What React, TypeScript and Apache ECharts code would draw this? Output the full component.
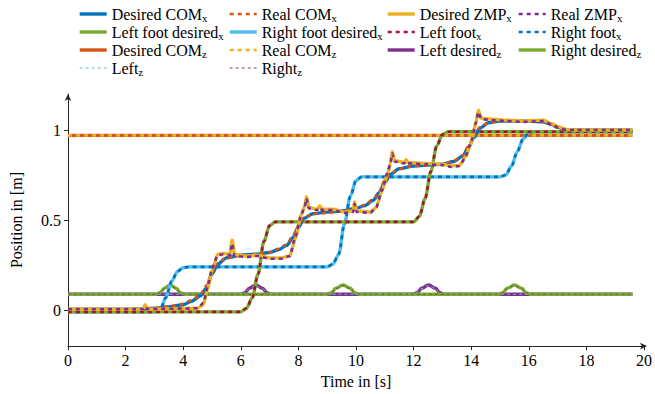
import React, { useEffect, useRef } from "react";
import * as echarts from "echarts";

const FONT = "'Liberation Serif', 'Times New Roman', 'DejaVu Serif', serif";

// ---------- data (time in s, position in m) ----------
const tCom = [0, 1, 2, 2.5, 3.0, 3.5, 4.0, 4.3, 4.6, 4.8, 5.0, 5.2, 5.5, 6.0, 6.5, 7.0, 7.3, 7.6, 7.8, 8.0, 8.2, 8.5, 9.0, 9.5, 10.0, 10.3, 10.6, 10.8, 11.0, 11.2, 11.5, 12.0, 12.5, 13.0, 13.4, 13.7, 13.9, 14.1, 14.3, 14.6, 15.0, 15.5, 16.0, 16.5, 16.8, 17.0, 17.3, 17.6, 19.6];
const desiredComX = [0.005, 0.005, 0.005, 0.006, 0.01, 0.018, 0.03, 0.05, 0.08, 0.12, 0.2, 0.255, 0.29, 0.305, 0.31, 0.32, 0.335, 0.36, 0.4, 0.46, 0.51, 0.535, 0.545, 0.55, 0.565, 0.58, 0.61, 0.65, 0.71, 0.755, 0.785, 0.8, 0.805, 0.81, 0.825, 0.855, 0.9, 0.96, 1.01, 1.04, 1.05, 1.05, 1.05, 1.045, 1.03, 1.015, 1.002, 1.0, 1.0];
const realComX = [0.005, 0.005, 0.005, 0.007, 0.012, 0.02, 0.035, 0.055, 0.09, 0.135, 0.21, 0.26, 0.29, 0.3, 0.31, 0.32, 0.34, 0.365, 0.41, 0.47, 0.515, 0.535, 0.54, 0.55, 0.565, 0.585, 0.615, 0.66, 0.72, 0.76, 0.785, 0.8, 0.805, 0.81, 0.83, 0.86, 0.91, 0.97, 1.015, 1.04, 1.05, 1.05, 1.05, 1.045, 1.03, 1.012, 1.0, 1.0, 1.0];

const tZmp = [0, 2.6, 2.68, 2.76, 4.5, 4.7, 4.85, 5.0, 5.2, 5.4, 5.62, 5.7, 5.78, 6.2, 6.6, 7.0, 7.4, 7.7, 7.9, 8.1, 8.22, 8.28, 8.36, 8.65, 8.74, 8.82, 9.2, 9.6, 9.9, 9.95, 10.02, 10.5, 10.7, 10.9, 11.1, 11.2, 11.26, 11.34, 11.68, 11.74, 11.8, 12.4, 13.0, 13.3, 13.6, 13.8, 14.0, 14.15, 14.25, 14.35, 14.7, 15.2, 15.8, 16.5, 16.8, 17.0, 17.3, 17.6, 19.6];
const desiredZmpX = [0.005, 0.005, 0.03, 0.005, 0.01, 0.03, 0.12, 0.22, 0.31, 0.315, 0.31, 0.39, 0.31, 0.3, 0.305, 0.29, 0.29, 0.3, 0.4, 0.53, 0.58, 0.63, 0.57, 0.56, 0.58, 0.56, 0.56, 0.545, 0.55, 0.6, 0.55, 0.545, 0.57, 0.66, 0.76, 0.82, 0.88, 0.83, 0.82, 0.835, 0.82, 0.815, 0.81, 0.8, 0.805, 0.85, 0.93, 1.03, 1.11, 1.065, 1.06, 1.055, 1.05, 1.055, 1.035, 1.02, 1.003, 1.0, 1.0];
const realZmpX = [0.005, 0.005, 0.02, 0.005, 0.01, 0.04, 0.13, 0.23, 0.305, 0.31, 0.305, 0.37, 0.3, 0.295, 0.3, 0.285, 0.285, 0.3, 0.41, 0.53, 0.575, 0.62, 0.565, 0.555, 0.57, 0.555, 0.555, 0.54, 0.545, 0.59, 0.545, 0.54, 0.57, 0.665, 0.765, 0.82, 0.87, 0.825, 0.815, 0.825, 0.815, 0.81, 0.805, 0.795, 0.8, 0.85, 0.935, 1.035, 1.1, 1.06, 1.055, 1.05, 1.045, 1.05, 1.03, 1.015, 1.0, 1.0, 1.0];

const tLeftFoot = [0, 6.0, 6.2, 6.4, 6.6, 6.8, 7.0, 7.2, 12.0, 12.2, 12.4, 12.6, 12.8, 13.0, 13.2, 19.6];
const leftFootDesiredX = [-0.01, -0.01, 0.01, 0.07, 0.2, 0.38, 0.47, 0.49, 0.49, 0.52, 0.62, 0.77, 0.91, 0.975, 0.99, 0.99];
const leftFootX = [-0.01, -0.01, 0.01, 0.07, 0.2, 0.38, 0.47, 0.49, 0.49, 0.52, 0.62, 0.77, 0.91, 0.975, 0.99, 0.99];

const tRightFoot = [0, 3.0, 3.2, 3.4, 3.6, 3.8, 4.0, 4.2, 9.0, 9.2, 9.4, 9.6, 9.8, 10.0, 10.2, 15.0, 15.2, 15.4, 15.6, 15.8, 16.0, 16.2, 19.6];
const rightFootDesiredX = [-0.01, -0.01, 0.0, 0.07, 0.16, 0.215, 0.235, 0.24, 0.24, 0.255, 0.31, 0.48, 0.63, 0.72, 0.74, 0.74, 0.75, 0.8, 0.88, 0.95, 0.985, 0.99, 0.99];
const rightFootX = [-0.01, -0.01, 0.0, 0.07, 0.16, 0.215, 0.235, 0.24, 0.24, 0.255, 0.31, 0.48, 0.63, 0.72, 0.74, 0.74, 0.75, 0.8, 0.88, 0.95, 0.985, 0.99, 0.99];

const tComZ = [0, 19.6];
const desiredComZ = [0.97, 0.97];
const realComZ = [0.97, 0.97];

const tLeftZ = [0, 6.0, 6.15, 6.3, 6.52, 6.75, 6.9, 7.05, 11.98, 12.13, 12.28, 12.52, 12.76, 12.91, 13.06, 19.6];
const leftDesiredZ = [0.088, 0.088, 0.097, 0.122, 0.139, 0.122, 0.097, 0.088, 0.088, 0.097, 0.122, 0.139, 0.122, 0.097, 0.088, 0.088];
const leftZ = [0.088, 0.088, 0.096, 0.12, 0.136, 0.12, 0.096, 0.088, 0.088, 0.096, 0.12, 0.136, 0.12, 0.096, 0.088, 0.088];

const tRightZ = [0, 3.05, 3.2, 3.35, 3.55, 3.75, 3.9, 4.05, 9.0, 9.15, 9.3, 9.55, 9.8, 9.95, 10.1, 14.95, 15.1, 15.25, 15.5, 15.75, 15.9, 16.05, 19.6];
const rightDesiredZ = [0.088, 0.088, 0.097, 0.122, 0.139, 0.122, 0.097, 0.088, 0.088, 0.097, 0.122, 0.139, 0.122, 0.097, 0.088, 0.088, 0.097, 0.122, 0.139, 0.122, 0.097, 0.088, 0.088];
const rightZ = [0.088, 0.088, 0.096, 0.12, 0.136, 0.12, 0.096, 0.088, 0.088, 0.096, 0.12, 0.136, 0.12, 0.096, 0.088, 0.088, 0.096, 0.12, 0.136, 0.12, 0.096, 0.088, 0.088];

const xTicks = [0, 2, 4, 6, 8, 10, 12, 14, 16, 18, 20];
const yTicks = [0, 0.5, 1];

const C = {
  blue: "#0072BD",
  orange: "#D95319",
  yellow: "#EDB120",
  purple: "#7E2F8E",
  green: "#77AC30",
  cyan: "#4DBEEE",
  red: "#A2142F",
};

const zip = (t: number[], v: number[]) => t.map((x, i) => [x, v[i]]);

type S = { name: string; t: number[]; v: number[]; color: string; dashed?: boolean; thin?: boolean; smooth?: number };

const seriesDefs: S[] = [
  { name: "Desired COM_z", t: tComZ, v: desiredComZ, color: C.orange },
  { name: "Real COM_z", t: tComZ, v: realComZ, color: C.yellow, dashed: true },
  { name: "Left desired_z", t: tLeftZ, v: leftDesiredZ, color: C.purple, smooth: 0.4 },
  { name: "Right desired_z", t: tRightZ, v: rightDesiredZ, color: C.green, smooth: 0.4 },
  { name: "Left_z", t: tLeftZ, v: leftZ, color: "#6fb7c9", thin: true, smooth: 0.4 },
  { name: "Right_z", t: tRightZ, v: rightZ, color: "#7a4a4a", thin: true, smooth: 0.4 },
  { name: "Right foot desired_x", t: tRightFoot, v: rightFootDesiredX, color: C.cyan, smooth: 0.3 },
  { name: "Right foot_x", t: tRightFoot, v: rightFootX, color: C.blue, dashed: true, smooth: 0.3 },
  { name: "Left foot desired_x", t: tLeftFoot, v: leftFootDesiredX, color: C.green, smooth: 0.3 },
  { name: "Left foot_x", t: tLeftFoot, v: leftFootX, color: C.red, dashed: true, smooth: 0.3 },
  { name: "Desired COM_x", t: tCom, v: desiredComX, color: C.blue, smooth: 0.3 },
  { name: "Real COM_x", t: tCom, v: realComX, color: C.orange, dashed: true, smooth: 0.3 },
  { name: "Desired ZMP_x", t: tZmp, v: desiredZmpX, color: C.yellow, smooth: 0.2 },
  { name: "Real ZMP_x", t: tZmp, v: realZmpX, color: C.purple, dashed: true, smooth: 0.2 },
];

const legendCols = [
  { left: 78, names: ["Desired COM_x", "Left foot desired_x", "Desired COM_z", "Left_z"] },
  { left: 228, names: ["Real COM_x", "Right foot desired_x", "Real COM_z", "Right_z"] },
  { left: 386, names: ["Desired ZMP_x", "Left foot_x", "Left desired_z"] },
  { left: 517, names: ["Real ZMP_x", "Right foot_x", "Right desired_z"] },
];

export default function App() {
  const ref = useRef<HTMLDivElement>(null);
  useEffect(() => {
    const chart = echarts.init(ref.current!, null, { renderer: "svg" });
    const series = seriesDefs.map((s) => ({
      name: s.name,
      type: "line",
      data: zip(s.t, s.v),
      symbol: "none",
      showSymbol: false,
      smooth: s.smooth ?? false,
      smoothMonotone: "x",
      emphasis: { disabled: true },
      lineStyle: {
        color: s.color,
        width: s.thin ? 1 : s.dashed ? 2.6 : 3.4,
        type: s.thin ? [3, 3] : s.dashed ? [4, 4] : "solid",
      },
      itemStyle: { color: s.color },
    }));
    const rich = {
      b: { fontFamily: FONT, fontSize: 16, color: "#000", lineHeight: 18 },
      s: { fontFamily: FONT, fontSize: 11, color: "#000", lineHeight: 10, verticalAlign: "bottom" },
    };
    const legend = legendCols.map((c) => ({
      left: c.left,
      top: 6,
      orient: "vertical",
      padding: 0,
      itemGap: 1,
      itemWidth: 27,
      itemHeight: 18,
      itemTextGap: 5,
      icon: "inherit",
      itemStyle: { opacity: 0 },
      lineStyle: { width: "inherit", type: "inherit" },
      selectedMode: false,
      data: c.names,
      formatter: (name: string) => {
        const [b, sub] = name.split("_");
        return `{b|${b}}{s|${sub}}`;
      },
      textStyle: { fontFamily: FONT, rich },
    }));
    const axisFont = { fontFamily: FONT, fontSize: 16, color: "#000" };
    chart.setOption({
      animation: false,
      backgroundColor: "#fff",
      textStyle: { fontFamily: FONT },
      legend,
      grid: { left: 68, right: 7, top: 94, bottom: 46, containLabel: false },
      xAxis: {
        type: "value",
        min: 0,
        max: 20,
        interval: 2,
        name: "Time in [s]",
        nameLocation: "middle",
        nameGap: 25,
        nameTextStyle: axisFont,
        axisLine: { onZero: false, symbol: ["none", "arrow"], symbolSize: [5, 7], symbolOffset: [0, 3], lineStyle: { color: "#262626", width: 1 } },
        axisTick: { show: true, length: 4, lineStyle: { color: "#262626" } },
        axisLabel: { ...axisFont, margin: 6, customValues: xTicks },
        splitLine: { show: false },
      },
      yAxis: {
        type: "value",
        min: -0.2,
        max: 1.2,
        name: "Position in [m]",
        nameLocation: "middle",
        nameGap: 44,
        nameRotate: 90,
        nameTextStyle: axisFont,
        axisLine: { show: true, onZero: false, symbol: ["none", "arrow"], symbolSize: [5, 7], lineStyle: { color: "#262626", width: 1 } },
        axisTick: { show: true, length: 4, customValues: yTicks, lineStyle: { color: "#262626" } },
        axisLabel: { ...axisFont, margin: 7, customValues: yTicks },
        splitLine: { show: false },
      },
      series,
    });
    return () => chart.dispose();
  }, []);
  return <div ref={ref} style={{ position: "absolute", left: 0, top: 0, width: 655, height: 394 }} />;
}
